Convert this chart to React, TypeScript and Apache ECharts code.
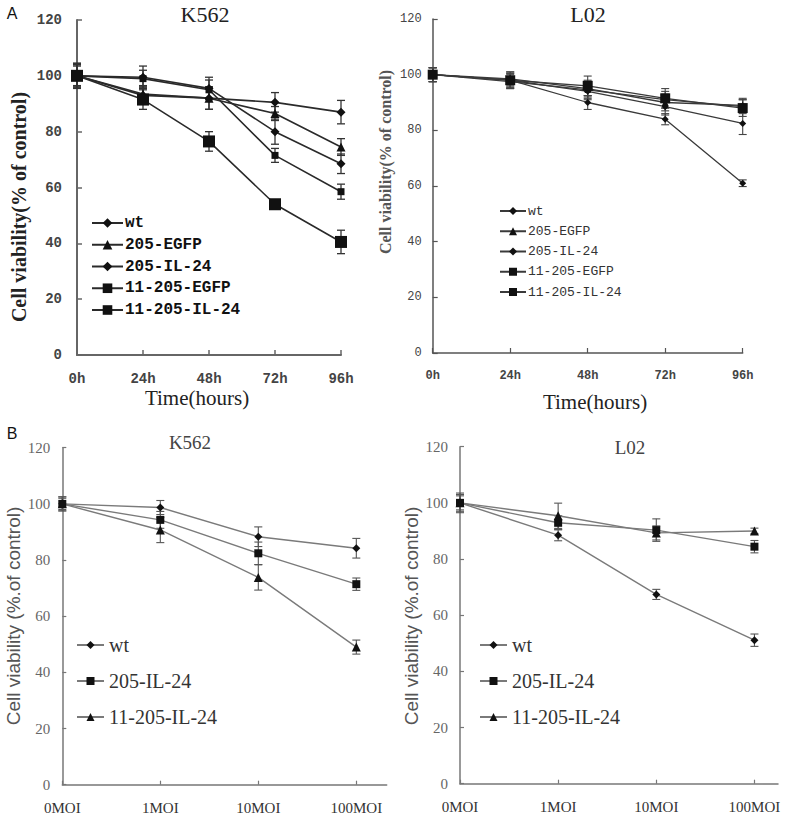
import React, { useEffect, useRef } from "react";
import * as echarts from "echarts";

// ---------- data ----------
const timeLabels = ["0h", "24h", "48h", "72h", "96h"];
const moiLabels = ["0MOI", "1MOI", "10MOI", "100MOI"];
const yTicks = [0, 20, 40, 60, 80, 100, 120];

// Panel A, K562
const k562A_wt = [100, 93, 92, 90.5, 87];
const k562A_wtErr = [4, 3, 4, 3.5, 4.2];
const k562A_205EGFP = [100, 93.5, 92, 86.5, 74.5];
const k562A_205EGFPErr = [4.5, 3, 4, 2.5, 3];
const k562A_205IL24 = [100, 99.5, 95.5, 80, 68.5];
const k562A_205IL24Err = [3.5, 4, 4, 4.5, 3.5];
const k562A_11EGFP = [100, 99, 95, 71.5, 58.5];
const k562A_11EGFPErr = [4, 3, 3.5, 2.5, 2.7];
const k562A_11IL24 = [100, 91.5, 76.5, 54, 40.5];
const k562A_11IL24Err = [4.5, 3.5, 3.5, 1, 4.2];

// Panel A, L02
const l02A_wt = [100, 98, 94, 88.5, 82.5];
const l02A_wtErr = [2.5, 2.5, 3, 3, 4];
const l02A_205EGFP = [100, 98.5, 95, 90, 89];
const l02A_205EGFPErr = [2.5, 2.5, 3, 3, 2.5];
const l02A_205IL24 = [100, 98, 90, 84, 61];
const l02A_205IL24Err = [2.5, 2.5, 2.5, 2, 1.2];
const l02A_11EGFP = [100, 97.5, 94.5, 91, 88.5];
const l02A_11EGFPErr = [2.5, 2.5, 3, 3, 2.5];
const l02A_11IL24 = [100, 98, 96, 91.5, 88];
const l02A_11IL24Err = [2.5, 3, 3.5, 3.5, 3];

// Panel B, K562
const k562B_wt = [100, 98.7, 88.3, 84.2];
const k562B_wtErr = [2, 2.5, 3.5, 3.5];
const k562B_205IL24 = [100, 94.3, 82.4, 71.4];
const k562B_205IL24Err = [2.5, 3, 4, 2.2];
const k562B_11IL24 = [100, 90.7, 73.8, 49];
const k562B_11IL24Err = [2.5, 4.5, 4.5, 2.5];

// Panel B, L02
const l02B_wt = [100, 88.5, 67.4, 51.1];
const l02B_wtErr = [2.5, 2, 1.8, 2.2];
const l02B_205IL24 = [100, 92.9, 90.3, 84.4];
const l02B_205IL24Err = [3, 2.5, 4, 2.2];
const l02B_11IL24 = [100, 95.4, 89.3, 90];
const l02B_11IL24Err = [3.5, 4.5, 2.5, 1];

// ---------- styling helpers ----------
const serif = '"Liberation Serif", "Times New Roman", serif';
const mono = '"Liberation Mono", "DejaVu Sans Mono", monospace';
const sans = '"Liberation Sans", Arial, sans-serif';

function txt(text: string, x: number, y: number, size: number, family: string, fill: string, weight = "normal", rot = 0) {
  return {
    type: "text",
    x,
    y,
    rotation: rot,
    silent: true,
    style: {
      text,
      fontSize: size,
      fontFamily: family,
      fontWeight: weight,
      fill,
      textAlign: "center",
      textVerticalAlign: "middle",
      align: "center",
      verticalAlign: "middle",
    },
  };
}

function errSeries(sets: { vals: number[]; errs: number[] }[], color: string, lw: number, cap: number) {
  const data: number[][] = [];
  sets.forEach((s) => s.vals.forEach((v, i) => data.push([i, v, s.errs[i]])));
  return {
    type: "custom",
    name: "error",
    z: 2,
    silent: true,
    encode: { x: 0, y: 1 },
    data,
    renderItem: (_p: any, api: any) => {
      const x = api.value(0);
      const y = api.value(1);
      const e = api.value(2);
      const a = api.coord([x, y + e]);
      const b = api.coord([x, y - e]);
      const st = { stroke: color, lineWidth: lw };
      return {
        type: "group",
        children: [
          { type: "line", shape: { x1: a[0], y1: a[1], x2: b[0], y2: b[1] }, style: st },
          { type: "line", shape: { x1: a[0] - cap, y1: a[1], x2: a[0] + cap, y2: a[1] }, style: st },
          { type: "line", shape: { x1: b[0] - cap, y1: b[1], x2: b[0] + cap, y2: b[1] }, style: st },
        ],
      };
    },
  };
}

function lineS(name: string, data: any[], symbol: string, size: number, lineColor: string, markColor: string, lw: number) {
  return {
    type: "line",
    name,
    data,
    symbol,
    symbolSize: size,
    z: 3,
    lineStyle: { color: lineColor, width: lw },
    itemStyle: { color: markColor, opacity: 1 },
    emphasis: { disabled: true },
  };
}

const idx = (vals: number[]) => vals.map((v, i) => [i, v]);

// ---------- panel options ----------
function optionAK562() {
  const lc = "#2a2a2a";
  return {
    animation: false,
    grid: { left: 77, top: 20, width: 264, height: 335, containLabel: false },
    xAxis: {
      type: "category",
      data: timeLabels,
      boundaryGap: false,
      axisLine: { lineStyle: { color: "#666", width: 2 } },
      axisTick: { inside: true, length: 5, lineStyle: { color: "#666", width: 1.5 } },
      axisLabel: { margin: 17, fontFamily: mono, fontWeight: "bold", fontSize: 14, color: "#444" },
      splitLine: { show: false },
    },
    yAxis: {
      type: "value",
      min: 0,
      max: 120,
      interval: 20,
      axisLine: { show: true, lineStyle: { color: "#666", width: 2 } },
      axisTick: { show: true, inside: true, length: 5, lineStyle: { color: "#666", width: 1.5 } },
      axisLabel: { margin: 15, fontFamily: mono, fontWeight: "bold", fontSize: 14, color: "#444" },
      splitLine: { show: false },
    },
    legend: {
      orient: "vertical",
      left: 91,
      top: 214,
      padding: 0,
      itemGap: 3.75,
      itemWidth: 31,
      itemHeight: 12,
      selectedMode: false,
      data: ["wt", "205-EGFP", "205-IL-24", "11-205-EGFP", "11-205-IL-24"],
      textStyle: { fontFamily: mono, fontWeight: "bold", fontSize: 16, color: "#111", lineHeight: 18, padding: [0, 0, 0, -3] },
    },
    graphic: [
      txt("A", 12, 13, 16, sans, "#111"),
      txt("K562", 205, 14, 22, serif, "#222"),
      txt("Cell viability(% of control)", 19, 207, 20, serif, "#222", "bold", Math.PI / 2),
      txt("Time(hours)", 197, 398, 21, serif, "#222"),
    ],
    series: [
      errSeries(
        [
          { vals: k562A_wt, errs: k562A_wtErr },
          { vals: k562A_205EGFP, errs: k562A_205EGFPErr },
          { vals: k562A_205IL24, errs: k562A_205IL24Err },
          { vals: k562A_11EGFP, errs: k562A_11EGFPErr },
          { vals: k562A_11IL24, errs: k562A_11IL24Err },
        ],
        "#333",
        1.3,
        4
      ),
      lineS("wt", k562A_wt, "diamond", 9, lc, "#111", 1.6),
      lineS("205-EGFP", k562A_205EGFP, "triangle", 9, lc, "#111", 1.6),
      lineS("205-IL-24", k562A_205IL24, "diamond", 9, lc, "#111", 1.6),
      lineS("11-205-EGFP", k562A_11EGFP, "rect", 7, lc, "#111", 1.6),
      lineS("11-205-IL-24", k562A_11IL24, "rect", 12, lc, "#111", 1.6),
    ],
  };
}

function optionAL02() {
  const lc = "#3a3a3a";
  return {
    animation: false,
    grid: { left: 62.7, top: 19, width: 310, height: 334, containLabel: false },
    xAxis: {
      type: "category",
      data: timeLabels,
      boundaryGap: false,
      axisLine: { lineStyle: { color: "#555", width: 1.5 } },
      axisTick: { inside: true, length: 5, lineStyle: { color: "#555", width: 1.2 } },
      axisLabel: { margin: 17, fontFamily: mono, fontWeight: "bold", fontSize: 12, color: "#444" },
      splitLine: { show: false },
    },
    yAxis: {
      type: "value",
      min: 0,
      max: 120,
      interval: 20,
      axisLine: { show: true, lineStyle: { color: "#555", width: 1.5 } },
      axisTick: { show: true, inside: true, length: 5, lineStyle: { color: "#555", width: 1.2 } },
      axisLabel: { margin: 11, fontFamily: mono, fontSize: 12, color: "#444" },
      splitLine: { show: false },
    },
    legend: {
      orient: "vertical",
      left: 129,
      top: 203.5,
      padding: 0,
      itemGap: 5.25,
      itemWidth: 26,
      itemHeight: 10,
      selectedMode: false,
      data: ["wt", "205-EGFP", "205-IL-24", "11-205-EGFP", "11-205-IL-24"],
      textStyle: { fontFamily: mono, fontSize: 13, color: "#333", lineHeight: 15, padding: [0, 0, 0, -3] },
    },
    graphic: [
      txt("L02", 218, 14, 22, serif, "#222"),
      txt("Cell viability(% of control)", 15, 162, 16, serif, "#555", "bold", Math.PI / 2),
      txt("Time(hours)", 225, 402, 21, serif, "#222"),
    ],
    series: [
      errSeries(
        [
          { vals: l02A_wt, errs: l02A_wtErr },
          { vals: l02A_205EGFP, errs: l02A_205EGFPErr },
          { vals: l02A_205IL24, errs: l02A_205IL24Err },
          { vals: l02A_11EGFP, errs: l02A_11EGFPErr },
          { vals: l02A_11IL24, errs: l02A_11IL24Err },
        ],
        "#444",
        1.1,
        4
      ),
      lineS("wt", l02A_wt, "diamond", 7, lc, "#111", 1.3),
      lineS("205-EGFP", l02A_205EGFP, "triangle", 7, lc, "#111", 1.3),
      lineS("205-IL-24", l02A_205IL24, "diamond", 7, lc, "#111", 1.3),
      lineS("11-205-EGFP", l02A_11EGFP, "rect", 6, lc, "#111", 1.3),
      lineS("11-205-IL-24", l02A_11IL24, "rect", 10, lc, "#111", 1.3),
    ],
  };
}

function optionB(
  title: string,
  titleX: number,
  titleY: number,
  gridLeft: number,
  gridTop: number,
  gridW: number,
  xMax: number,
  ylabelX: number,
  legendLeft: number,
  withLetter: boolean,
  wt: number[],
  wtErr: number[],
  s205: number[],
  s205Err: number[],
  s11: number[],
  s11Err: number[]
) {
  const lc = "#7a7a7a";
  const graphic: any[] = [
    txt(title, titleX, titleY, 19, serif, "#444"),
    txt("Cell viability (%.of control)", ylabelX, 198, 19, sans, "#555", "normal", Math.PI / 2),
  ];
  if (withLetter) graphic.push(txt("B", 12, 15, 16, sans, "#111"));
  return {
    animation: false,
    grid: { left: gridLeft, top: gridTop, width: gridW, height: 337, containLabel: false },
    xAxis: {
      type: "value",
      min: 0,
      max: xMax,
      interval: 1,
      axisLine: { show: true, lineStyle: { color: "#777", width: 1.5 } },
      axisTick: { show: true, inside: true, length: 4, customValues: [0, 1, 2, 3], lineStyle: { color: "#777", width: 1.2 } },
      axisLabel: {
        margin: 16,
        customValues: [0, 1, 2, 3],
        fontFamily: serif,
        fontSize: 15,
        color: "#333",
        formatter: (v: number) => (Number.isInteger(v) && v < moiLabels.length ? moiLabels[v] : ""),
      },
      splitLine: { show: false },
    },
    yAxis: {
      type: "value",
      min: 0,
      max: 120,
      interval: 20,
      axisLine: { show: true, lineStyle: { color: "#777", width: 1.5 } },
      axisTick: { show: true, inside: true, length: 4, lineStyle: { color: "#777", width: 1.2 } },
      axisLabel: { margin: 12, fontFamily: serif, fontSize: 15, color: "#666" },
      splitLine: { show: false },
    },
    legend: {
      orient: "vertical",
      left: legendLeft,
      top: 216,
      padding: 0,
      itemGap: 14,
      itemWidth: 27,
      itemHeight: 10,
      selectedMode: false,
      data: ["wt", "205-IL-24", "11-205-IL-24"],
      textStyle: { fontFamily: serif, fontSize: 20, color: "#333", lineHeight: 22 },
    },
    graphic,
    series: [
      errSeries(
        [
          { vals: wt, errs: wtErr },
          { vals: s205, errs: s205Err },
          { vals: s11, errs: s11Err },
        ],
        "#555",
        1.1,
        4
      ),
      lineS("wt", idx(wt), "diamond", 8, lc, "#111", 1.4),
      lineS("205-IL-24", idx(s205), "rect", 8, lc, "#111", 1.4),
      lineS("11-205-IL-24", idx(s11), "triangle", 9, lc, "#111", 1.4),
    ],
  };
}

// ---------- component ----------
export default function App() {
  const r1 = useRef<HTMLDivElement>(null);
  const r2 = useRef<HTMLDivElement>(null);
  const r3 = useRef<HTMLDivElement>(null);
  const r4 = useRef<HTMLDivElement>(null);

  useEffect(() => {
    const charts: any[] = [];
    const add = (el: HTMLDivElement | null, opt: any) => {
      if (!el) return;
      const c = echarts.init(el, undefined, { renderer: "svg" });
      c.setOption(opt);
      charts.push(c);
    };
    add(r1.current, optionAK562());
    add(r2.current, optionAL02());
    add(
      r3.current,
      optionB("K562", 190, 24, 62.3, 29.7, 324.4, 3.31, 13, 76, true, k562B_wt, k562B_wtErr, k562B_205IL24, k562B_205IL24Err, k562B_11IL24, k562B_11IL24Err)
    );
    add(
      r4.current,
      optionB("L02", 240, 29, 70, 28.7, 318, 3.24, 21, 89, false, l02B_wt, l02B_wtErr, l02B_205IL24, l02B_205IL24Err, l02B_11IL24, l02B_11IL24Err)
    );
    return () => charts.forEach((c) => c.dispose());
  }, []);

  const box = (left: number, top: number, width: number, height: number): React.CSSProperties => ({
    position: "absolute",
    left,
    top,
    width,
    height,
  });

  return (
    <div style={{ position: "absolute", left: 0, top: 0, width: 786, height: 818, background: "#fff", overflow: "hidden" }}>
      <div ref={r1} style={box(0, 0, 370, 418)} />
      <div ref={r2} style={box(370, 0, 416, 418)} />
      <div ref={r3} style={box(0, 418, 390, 400)} />
      <div ref={r4} style={box(390, 418, 396, 400)} />
    </div>
  );
}
